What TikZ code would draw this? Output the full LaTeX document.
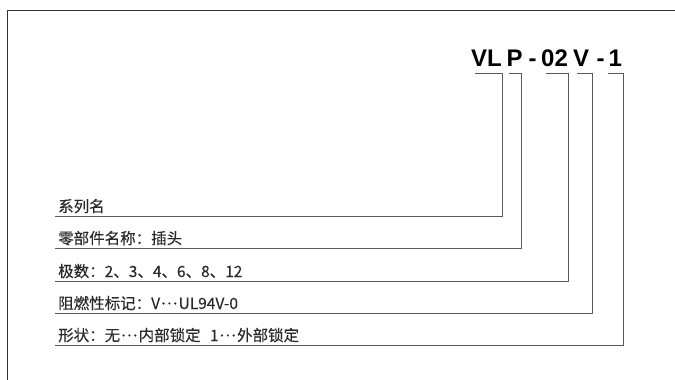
\documentclass[tikz,border=0pt]{standalone}
\usepackage{fontspec}
\newfontfamily\cjk[FakeBold=0.25]{Noto Sans CJK SC}
\newfontfamily\titlefont{Liberation Sans}
\newcommand{\middots}{\kern0.08em\raisebox{0.3em}{.\kern0.1em.\kern0.1em.}\kern0.08em}
\definecolor{linegray}{HTML}{5A5A5A}
\definecolor{textgray}{HTML}{2A2A2A}
\begin{document}
\begin{tikzpicture}[x=1pt,y=-1pt,
  lbl/.style={anchor=base west,inner sep=0pt,font=\cjk\fontsize{15.5}{16}\selectfont,text=textgray},
  ttl/.style={anchor=base west,inner sep=0pt,font=\titlefont\bfseries\fontsize{24}{25}\selectfont,text=black},
  conn/.style={draw=linegray,line width=0.9pt},
  frame/.style={draw=black!80,line width=1pt}]
\useasboundingbox (0,0) rectangle (675,380);
% frame
\coordinate (ftr) at (676,10);
\coordinate (ftl) at (7,10);
\coordinate (fbl) at (7,381);
\draw[frame] (ftr) -- (ftl) -- (fbl);
% title pieces
\node[ttl] (tVL) at (471,66.7) {VL};
\node[ttl] (tP) at (506.5,66.7) {P};
\node[ttl] (tD1) at (528.5,66.7) {-};
\node[ttl] (t02) at (541,66.7) {02};
\node[ttl] (tV) at (573,66.7) {V};
\node[ttl] (tD2) at (596.5,66.7) {-};
\node[ttl] (t1) at (608.5,66.7) {1};
% bracket start points
\coordinate (a1) at (475,73);
\coordinate (b1) at (502,73);
\coordinate (a2) at (509,73);
\coordinate (b2) at (521,73);
\coordinate (a3) at (546,73);
\coordinate (b3) at (568,73);
\coordinate (a4) at (577,73);
\coordinate (b4) at (592,73);
\coordinate (a5) at (608,73);
\coordinate (b5) at (623,73);
% corners
\coordinate (c1) at (502,216);
\coordinate (c2) at (521,248);
\coordinate (c3) at (568,281);
\coordinate (c4) at (592,313);
\coordinate (c5) at (623,345);
% line left ends
\coordinate (l1) at (55,216);
\coordinate (l2) at (55,248);
\coordinate (l3) at (55,281);
\coordinate (l4) at (55,313);
\coordinate (l5) at (55,345);
\draw[conn] (a1) -- (b1) -- (c1) -- (l1);
\draw[conn] (a2) -- (b2) -- (c2) -- (l2);
\draw[conn] (a3) -- (b3) -- (c3) -- (l3);
\draw[conn] (a4) -- (b4) -- (c4) -- (l4);
\draw[conn] (a5) -- (b5) -- (c5) -- (l5);
% labels
\node[lbl] (n1) at (58,212) {系列名};
\node[lbl] (n2) at (58,244) {零部件名称：插头};
\node[lbl] (n3) at (58,277) {极数：2、3、4、6、8、12};
\node[lbl] (n4) at (58,309) {阻燃性标记：V\middots UL94V-0};
\node[lbl] (n5) at (58,341) {形状：无\middots 内部锁定\hspace{0.6em}1\middots 外部锁定};
\end{tikzpicture}
\end{document}
